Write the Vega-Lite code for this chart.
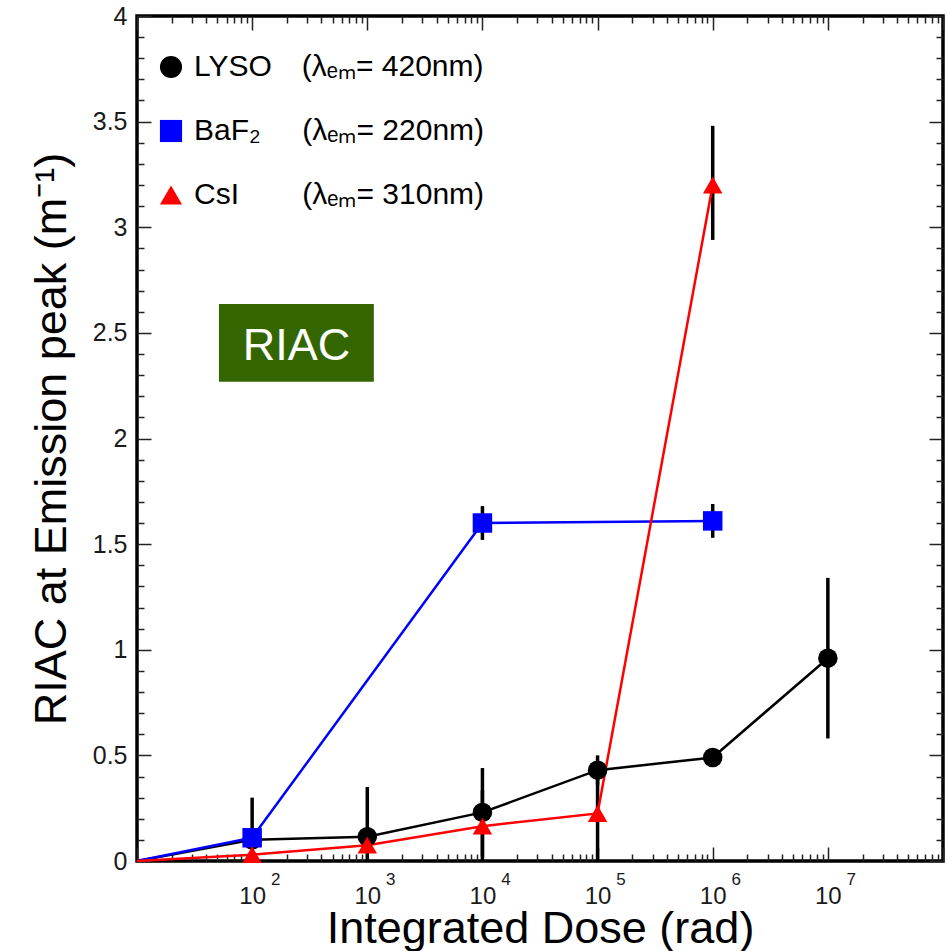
{
  "$schema": "https://vega.github.io/schema/vega-lite/v6.json",
  "width": 806,
  "height": 845,
  "autosize": "none",
  "padding": {"left": 137, "top": 16, "right": 4, "bottom": 90},
  "background": "white",
  "config": {
    "font": "Liberation Sans",
    "view": {"stroke": "black", "strokeWidth": 3.5},
    "axis": {"grid": false, "domain": false, "labelFont": "Liberation Sans", "titleFont": "Liberation Sans", "labelColor": "#1a1a1a", "titleColor": "black", "titleFontWeight": "normal", "tickColor": "#222222"},
    "legend": {"labelFontSize": 30, "labelFont": "Liberation Sans", "labelColor": "black", "labelLimit": 400, "symbolSize": 490, "symbolStrokeWidth": 0, "rowPadding": 34, "labelOffset": 8}
  },
  "datasets": {
    "pts": [
      {"material": "LYSO", "dose": 10, "riac": 0},
      {"material": "LYSO", "dose": 100, "riac": 0.10, "lo": -0.10, "hi": 0.30},
      {"material": "LYSO", "dose": 1000, "riac": 0.115, "lo": -0.115, "hi": 0.35},
      {"material": "LYSO", "dose": 10000, "riac": 0.23, "lo": 0.02, "hi": 0.44},
      {"material": "LYSO", "dose": 100000, "riac": 0.43, "lo": 0.36, "hi": 0.50},
      {"material": "LYSO", "dose": 1000000, "riac": 0.49, "lo": 0.47, "hi": 0.51},
      {"material": "LYSO", "dose": 10000000, "riac": 0.96, "lo": 0.58, "hi": 1.34},
      {"material": "BaF2", "dose": 10, "riac": 0},
      {"material": "BaF2", "dose": 100, "riac": 0.11, "lo": 0.09, "hi": 0.13},
      {"material": "BaF2", "dose": 10000, "riac": 1.60, "lo": 1.52, "hi": 1.68},
      {"material": "BaF2", "dose": 1000000, "riac": 1.61, "lo": 1.53, "hi": 1.69},
      {"material": "CsI", "dose": 10, "riac": 0},
      {"material": "CsI", "dose": 100, "riac": 0.03},
      {"material": "CsI", "dose": 1000, "riac": 0.075, "lo": 0.04, "hi": 0.11},
      {"material": "CsI", "dose": 10000, "riac": 0.165, "lo": -0.005, "hi": 0.335},
      {"material": "CsI", "dose": 100000, "riac": 0.225, "lo": -0.005, "hi": 0.455},
      {"material": "CsI", "dose": 1000000, "riac": 3.20, "lo": 2.94, "hi": 3.48}
    ]
  },
  "layer": [
    {
      "data": {"values": [{"x1": 51.5, "x2": 1140, "y1": 2.269, "y2": 2.637}]},
      "mark": {"type": "rect", "color": "#336600"},
      "encoding": {
        "x": {"field": "x1", "type": "quantitative", "scale": {"type": "log", "domain": [10, 100000000]},
          "axis": {"orient": "bottom", "values": [100, 1000, 10000, 100000, 1000000, 10000000], "ticks": false, "labelFontSize": 17, "labelPadding": 10, "labelOffset": 23, "labelExpr": "format(round(log(datum.value)/LN10), 'd')", "title": null}},
        "x2": {"field": "x2"},
        "y": {"field": "y1", "type": "quantitative", "scale": {"domain": [0, 4]}, "axis": null},
        "y2": {"field": "y2"}
      }
    },
    {
      "data": {"values": [{"x": 242.7, "y": 2.44, "t": "RIAC"}]},
      "mark": {"type": "text", "fontSize": 45, "color": "white", "font": "Liberation Sans", "baseline": "middle", "align": "center"},
      "encoding": {
        "x": {"field": "x", "type": "quantitative", "axis": null},
        "y": {"field": "y", "type": "quantitative", "axis": null},
        "text": {"field": "t"}
      }
    },
    {
      "data": {"name": "pts"},
      "transform": [{"filter": "isValid(datum.lo)"}],
      "mark": {"type": "rule", "strokeWidth": 3.5, "color": "black", "clip": true},
      "encoding": {
        "x": {"field": "dose", "type": "quantitative",
          "axis": {"orient": "bottom", "values": [100, 1000, 10000, 100000, 1000000, 10000000], "ticks": false, "labelFontSize": 24, "labelPadding": 23, "labelOffset": 0, "labelExpr": "'10'", "title": "Integrated Dose (rad)", "titleFontSize": 45, "titleBaseline": "alphabetic", "titleY": 81}},
        "y": {"field": "lo", "type": "quantitative",
          "axis": {"orient": "left", "values": [0, 0.5, 1, 1.5, 2, 2.5, 3, 3.5, 4], "format": "~g", "ticks": false, "labelFontSize": 25, "labelPadding": 10, "title": "RIAC at Emission peak (m⁻¹)", "titleFontSize": 45, "titleBaseline": "alphabetic", "titleX": -72}},
        "y2": {"field": "hi"}
      }
    },
    {
      "data": {"name": "pts"},
      "transform": [{"filter": "datum.material == 'LYSO'"}],
      "mark": {"type": "line", "strokeWidth": 2.5, "color": "black"},
      "encoding": {
        "x": {"field": "dose", "type": "quantitative",
          "axis": {"orient": "bottom", "labels": false, "title": null, "tickWidth": 1.5,
            "values": [10,20,30,40,50,60,70,80,90,100,200,300,400,500,600,700,800,900,1000,2000,3000,4000,5000,6000,7000,8000,9000,10000,20000,30000,40000,50000,60000,70000,80000,90000,100000,200000,300000,400000,500000,600000,700000,800000,900000,1000000,2000000,3000000,4000000,5000000,6000000,7000000,8000000,9000000,10000000,20000000,30000000,40000000,50000000,60000000,70000000,80000000,90000000,100000000],
            "tickSize": {"condition": {"test": "abs(log(datum.value)/LN10 - round(log(datum.value)/LN10)) < 0.000001", "value": -14}, "value": -7}}},
        "y": {"field": "riac", "type": "quantitative",
          "axis": {"orient": "left", "labels": false, "title": null, "tickWidth": 1.5,
            "values": [0,0.1,0.2,0.3,0.4,0.5,0.6,0.7,0.8,0.9,1,1.1,1.2,1.3,1.4,1.5,1.6,1.7,1.8,1.9,2,2.1,2.2,2.3,2.4,2.5,2.6,2.7,2.8,2.9,3,3.1,3.2,3.3,3.4,3.5,3.6,3.7,3.8,3.9,4],
            "tickSize": {"condition": {"test": "abs(datum.value*2 - round(datum.value*2)) < 0.000001", "value": -14}, "value": -7}}}
      }
    },
    {
      "data": {"name": "pts"},
      "transform": [{"filter": "datum.material == 'BaF2'"}],
      "mark": {"type": "line", "strokeWidth": 2.5, "color": "#0000ff"},
      "encoding": {
        "x": {"field": "dose", "type": "quantitative",
          "axis": {"orient": "top", "labels": false, "title": null, "tickWidth": 1.5,
            "values": [10,20,30,40,50,60,70,80,90,100,200,300,400,500,600,700,800,900,1000,2000,3000,4000,5000,6000,7000,8000,9000,10000,20000,30000,40000,50000,60000,70000,80000,90000,100000,200000,300000,400000,500000,600000,700000,800000,900000,1000000,2000000,3000000,4000000,5000000,6000000,7000000,8000000,9000000,10000000,20000000,30000000,40000000,50000000,60000000,70000000,80000000,90000000,100000000],
            "tickSize": {"condition": {"test": "abs(log(datum.value)/LN10 - round(log(datum.value)/LN10)) < 0.000001", "value": -14}, "value": -7}}},
        "y": {"field": "riac", "type": "quantitative",
          "axis": {"orient": "right", "labels": false, "title": null, "tickWidth": 1.5,
            "values": [0,0.1,0.2,0.3,0.4,0.5,0.6,0.7,0.8,0.9,1,1.1,1.2,1.3,1.4,1.5,1.6,1.7,1.8,1.9,2,2.1,2.2,2.3,2.4,2.5,2.6,2.7,2.8,2.9,3,3.1,3.2,3.3,3.4,3.5,3.6,3.7,3.8,3.9,4],
            "tickSize": {"condition": {"test": "abs(datum.value*2 - round(datum.value*2)) < 0.000001", "value": -14}, "value": -7}}}
      }
    },
    {
      "data": {"name": "pts"},
      "transform": [{"filter": "datum.material == 'CsI'"}],
      "mark": {"type": "line", "strokeWidth": 2.5, "color": "#ff0000"},
      "encoding": {
        "x": {"field": "dose", "type": "quantitative", "axis": null},
        "y": {"field": "riac", "type": "quantitative", "axis": null}
      }
    },
    {
      "data": {"name": "pts"},
      "transform": [{"filter": "datum.dose > 10"}],
      "mark": {"type": "point", "filled": true, "size": 380, "opacity": 1},
      "encoding": {
        "x": {"field": "dose", "type": "quantitative", "axis": null},
        "y": {"field": "riac", "type": "quantitative", "axis": null},
        "color": {"field": "material", "type": "nominal", "scale": {"domain": ["LYSO", "BaF2", "CsI"], "range": ["black", "#0000ff", "#ff0000"]},
          "legend": {"orient": "none", "legendX": 19, "legendY": 36, "title": null, "labelFontSize": 30, "symbolSize": 490,
            "labelExpr": "datum.label == 'LYSO' ? 'LYSO\u00a0\u00a0\u00a0\u2006(λₑₘ= 420nm)' : datum.label == 'BaF2' ? 'BaF₂\u00a0\u00a0\u00a0\u00a0\u00a0(λₑₘ= 220nm)' : 'CsI\u00a0\u00a0\u00a0\u00a0\u00a0\u00a0\u00a0\u2006(λₑₘ= 310nm)'"}},
        "shape": {"field": "material", "type": "nominal", "scale": {"domain": ["LYSO", "BaF2", "CsI"], "range": ["circle", "square", "triangle-up"]},
          "legend": {"orient": "none", "legendX": 19, "legendY": 36, "title": null, "labelFontSize": 30, "symbolSize": 490,
            "labelExpr": "datum.label == 'LYSO' ? 'LYSO\u00a0\u00a0\u00a0\u2006(λₑₘ= 420nm)' : datum.label == 'BaF2' ? 'BaF₂\u00a0\u00a0\u00a0\u00a0\u00a0(λₑₘ= 220nm)' : 'CsI\u00a0\u00a0\u00a0\u00a0\u00a0\u00a0\u00a0\u2006(λₑₘ= 310nm)'"}}
      }
    }
  ],
  "resolve": {"axis": {"x": "independent", "y": "independent"}}
}
